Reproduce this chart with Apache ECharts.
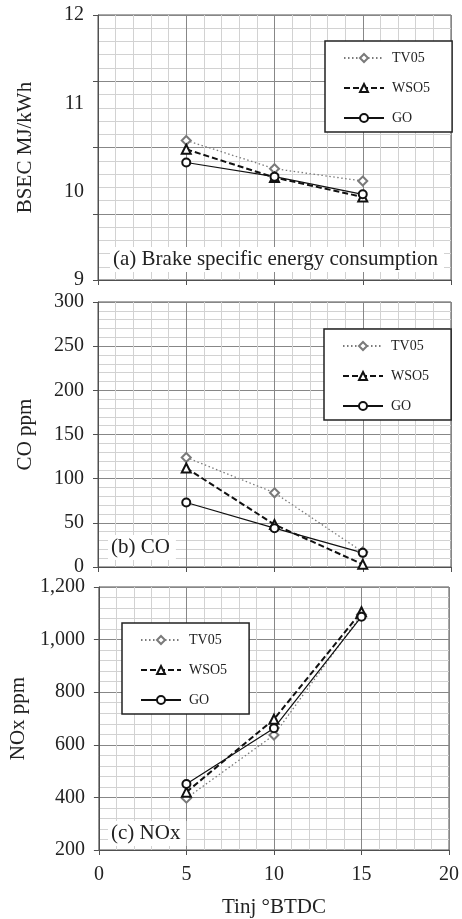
<!DOCTYPE html>
<html>
<head>
<meta charset="utf-8">
<script src="https://cdn.jsdelivr.net/npm/echarts@6/dist/echarts.min.js"></script>
<style>
  html, body {margin: 0; padding: 0; background: #fff;}
  #chart {width: 462px; height: 919px;}
</style>
</head>
<body>
<div id="chart"></div>
<script>
/* data */
var tinj = [5, 10, 15]
var seriesNames = ['TV05', 'WSO5', 'GO']

var bsecTV05 = [10.58, 10.26, 10.12]
var bsecWSO5 = [10.48, 10.16, 9.94]
var bsecGO = [10.33, 10.17, 9.97]

var coTV05 = [124, 84, 17]
var coWSO5 = [112, 48, 3]
var coGO = [73, 44, 16]

var noxTV05 = [397, 637, 1095]
var noxWSO5 = [420, 697, 1106]
var noxGO = [451, 663, 1087]

var panelLabels = ['(a) Brake specific energy consumption', '(b) CO', '(c) NOx']
var yNames = ['BSEC MJ/kWh', 'CO ppm', 'NOx ppm']
var xName = 'Tinj \u00b0BTDC'

var FONT = 'Liberation Serif'
var MAJOR = '#878787'
var MINOR = '#d2d2d2'
var AXIS = '#505050'

function pairs (ys) {
  return tinj.map(function (x, i) { return [x, ys[i]] })
}

function xAxisFor (idx, showLabel) {
  return {
    gridIndex: idx, type: 'value', min: 0, max: 20, interval: 5,
    name: showLabel ? xName : '',
    nameLocation: 'middle', nameGap: 47,
    nameTextStyle: {fontFamily: FONT, fontSize: 21, color: '#222'},
    axisLine: {onZero: false, lineStyle: {color: AXIS, width: 1}},
    axisTick: {show: true, length: 5, lineStyle: {color: AXIS}},
    axisLabel: {show: showLabel, margin: 15, fontFamily: FONT, fontSize: 20, color: '#222'},
    splitLine: {show: true, lineStyle: {color: MAJOR, width: 1}},
    minorTick: {show: false, splitNumber: 5},
    minorSplitLine: {show: true, lineStyle: {color: MINOR, width: 1}}
  }
}

function gridAxis (idx, min, max, interval, opts) {
  return Object.assign({
    gridIndex: idx, type: 'value', position: 'left', min: min, max: max, interval: interval,
    nameLocation: 'middle', nameGap: 62,
    nameTextStyle: {fontFamily: FONT, fontSize: 21, color: '#222'},
    axisLine: {show: true, lineStyle: {color: AXIS, width: 1}},
    axisTick: {show: true, length: 5, lineStyle: {color: AXIS}},
    axisLabel: {show: true, margin: 14, fontFamily: FONT, fontSize: 20, color: '#222'},
    splitLine: {show: true, lineStyle: {color: MAJOR, width: 1}},
    minorTick: {show: false, splitNumber: 5},
    minorSplitLine: {show: true, lineStyle: {color: MINOR, width: 1}}
  }, opts)
}

function makeSeries (name, xi, yi, data) {
  var style = {
    TV05: {symbol: 'emptyDiamond', symbolSize: 9, color: '#7a7a7a', line: {type: [1.5, 2.5], width: 1.3}},
    WSO5: {symbol: 'emptyTriangle', symbolSize: 9, color: '#111', line: {type: [6, 3], width: 2}},
    GO: {symbol: 'emptyCircle', symbolSize: 8, color: '#111', line: {type: 'solid', width: 1.2}}
  }[name]
  return {
    name: name, type: 'line', xAxisIndex: xi, yAxisIndex: yi,
    data: pairs(data),
    symbol: style.symbol, symbolSize: style.symbolSize,
    itemStyle: {color: style.color, borderWidth: 1.2},
    lineStyle: {color: style.color, type: style.line.type, width: style.line.width},
    emphasis: {disabled: true}, animation: false
  }
}

function legendAt (left, top) {
  return {
    data: seriesNames, orient: 'vertical', left: left, top: top,
    padding: [10, 22, 7, 18], itemGap: 16, itemWidth: 40, itemHeight: 10,
    borderColor: '#222', borderWidth: 1.5, backgroundColor: '#fff',
    selectedMode: false,
    textStyle: {fontFamily: FONT, fontSize: 14, color: '#222', padding: [0, 0, 0, 3]}
  }
}

function panelTitle (text, left, top) {
  return {
    text: text, left: left, top: top, padding: [2, 6, 2, 3],
    backgroundColor: '#fff',
    textStyle: {fontFamily: FONT, fontSize: 21, fontWeight: 'normal', color: '#222'}
  }
}

var chart = echarts.init(document.getElementById('chart'))
chart.setOption({
  backgroundColor: '#fff',
  animation: false,
  textStyle: {fontFamily: FONT},
  title: [
    panelTitle(panelLabels[0], 110, 247),
    panelTitle(panelLabels[1], 108, 535),
    panelTitle(panelLabels[2], 108, 821)
  ],
  legend: [legendAt(325, 41), legendAt(324, 329), legendAt(122, 623)],
  grid: [
    {left: 98, top: 15, width: 353, height: 265, show: true, borderColor: AXIS, borderWidth: 1},
    {left: 98, top: 302, width: 353, height: 265, show: true, borderColor: AXIS, borderWidth: 1},
    {left: 98, top: 587, width: 353, height: 263, show: true, borderColor: AXIS, borderWidth: 1}
  ],
  xAxis: [xAxisFor(0, false), xAxisFor(1, false), xAxisFor(2, true)],
  yAxis: [
    /* panel a: labels every 1, grid every 0.75 as in the original */
    gridAxis(0, 9, 12, 1, {
      name: yNames[0], axisLine: {show: false}, axisTick: {show: false},
      splitLine: {show: false}, minorSplitLine: {show: false}
    }),
    gridAxis(0, 9, 12, 0.75, {axisLabel: {show: false}}),
    gridAxis(1, 0, 300, 50, {name: yNames[1]}),
    gridAxis(2, 200, 1200, 200, {
      name: yNames[2],
      axisLabel: {
        show: true, margin: 14, fontFamily: FONT, fontSize: 20, color: '#222',
        formatter: function (v) { return v.toLocaleString('en-US') }
      }
    })
  ],
  series: [
    makeSeries('TV05', 0, 1, bsecTV05),
    makeSeries('WSO5', 0, 1, bsecWSO5),
    makeSeries('GO', 0, 1, bsecGO),
    makeSeries('TV05', 1, 2, coTV05),
    makeSeries('WSO5', 1, 2, coWSO5),
    makeSeries('GO', 1, 2, coGO),
    makeSeries('TV05', 2, 3, noxTV05),
    makeSeries('WSO5', 2, 3, noxWSO5),
    makeSeries('GO', 2, 3, noxGO)
  ]
})
</script>
</body>
</html>
